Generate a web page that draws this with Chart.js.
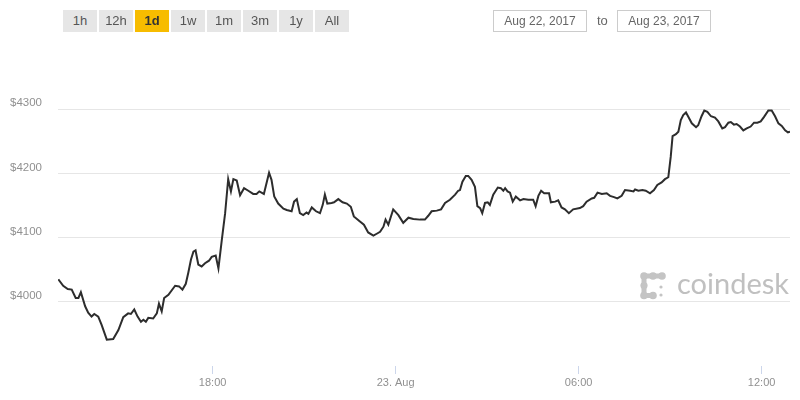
<!DOCTYPE html>
<html>
<head>
<meta charset="utf-8">
<script src="https://cdn.jsdelivr.net/npm/chart.js@4/dist/chart.umd.min.js"></script>
<style>
  html, body { margin: 0; padding: 0; background: #fff; }
  #wrap { position: relative; width: 800px; height: 400px; overflow: hidden; font-family: "Liberation Sans", Arial, sans-serif; }
  #chartBox { position: absolute; left: 0; top: 0; width: 800px; height: 400px; }
  .btn { position: absolute; top: 10px; width: 34px; height: 22px; line-height: 22px; background: #e6e6e6; color: #555; font-size: 13px; text-align: center; }
  .btn.on { background: #f7bc00; color: #333; font-weight: bold; }
  .date { position: absolute; top: 10px; width: 92px; height: 20px; line-height: 20px; border: 1px solid #ccc; color: #666; font-size: 12px; text-align: center; }
  #to { position: absolute; top: 10px; left: 597px; line-height: 22px; color: #666; font-size: 13px; }
  #logo { position: absolute; left: 640px; top: 272px; pointer-events: none; }
  #logoText { position: absolute; left: 677px; top: 268px; font-family: Lato, sans-serif; font-size: 29px; line-height: 29px; color: #c0c0c0; pointer-events: none; }
</style>
</head>
<body>
<div id="wrap">
  <div id="chartBox"><canvas id="priceChart"></canvas></div>
  <div id="buttons"></div>
  <div class="date" style="left:493px">Aug 22, 2017</div>
  <div id="to">to</div>
  <div class="date" style="left:617px">Aug 23, 2017</div>
  <svg id="logo" width="29" height="28" viewBox="0 0 29 28">
    <g fill="#c4c4c4">
      <rect x="4" y="1.5" width="18" height="5" />
      <circle cx="4" cy="4" r="3.8" /><circle cx="13" cy="4" r="3.8" /><circle cx="22" cy="4" r="3.8" />
      <rect x="1.5" y="4" width="5" height="19" />
      <circle cx="4" cy="13.5" r="3.6" />
      <circle cx="4" cy="23.5" r="3.8" /><circle cx="13" cy="23.5" r="3.8" />
      <rect x="4" y="21" width="9" height="5" />
      <circle cx="21" cy="15" r="1.6" /><circle cx="21" cy="23" r="1.6" />
    </g>
  </svg>
  <div id="logoText">coindesk</div>
</div>
<script>
// range buttons above the chart
const rangeButtons = ['1h', '12h', '1d', '1w', '1m', '3m', '1y', 'All'];
const activeRange = '1d';

// time in hours counted from 22 Aug 2017 00:00, price in USD
const times = [
  12.94, 13.10, 13.25, 13.38, 13.51, 13.60, 13.68, 13.82, 13.92, 14.03,
  14.12, 14.25, 14.36, 14.53, 14.74, 14.91, 15.07, 15.23, 15.32, 15.43,
  15.54, 15.65, 15.73, 15.81, 15.89, 16.05, 16.17, 16.24, 16.33, 16.41,
  16.55, 16.77, 16.90, 17.01, 17.12, 17.20, 17.29, 17.37, 17.44, 17.53,
  17.64, 17.75, 17.88, 17.97, 18.10, 18.19, 18.30, 18.41, 18.51, 18.60,
  18.68, 18.79, 18.90, 19.03, 19.17, 19.33, 19.44, 19.53, 19.68, 19.85,
  19.93, 20.02, 20.15, 20.32, 20.43, 20.59, 20.67, 20.76, 20.86, 20.97,
  21.08, 21.14, 21.25, 21.39, 21.52, 21.61, 21.68, 21.76, 21.90, 21.98,
  22.12, 22.26, 22.40, 22.53, 22.63, 22.83, 22.96, 23.10, 23.27, 23.38,
  23.49, 23.60, 23.67, 23.76, 23.92, 24.09, 24.25, 24.42, 24.58, 24.80,
  24.96, 25.07, 25.18, 25.35, 25.49, 25.62, 25.78, 25.95, 26.05, 26.11,
  26.19, 26.30, 26.38, 26.49, 26.60, 26.68, 26.77, 26.84, 26.93, 27.02,
  27.09, 27.20, 27.35, 27.45, 27.53, 27.59, 27.67, 27.75, 27.84, 27.94,
  28.08, 28.19, 28.35, 28.51, 28.59, 28.68, 28.77, 28.87, 29.03, 29.09,
  29.23, 29.33, 29.44, 29.55, 29.68, 29.82, 30.04, 30.15, 30.26, 30.43,
  30.51, 30.62, 30.76, 30.92, 31.03, 31.16, 31.27, 31.41, 31.52, 31.69,
  31.80, 31.85, 31.96, 32.09, 32.20, 32.34, 32.47, 32.58, 32.72, 32.83,
  32.94, 33.02, 33.08, 33.19, 33.27, 33.35, 33.43, 33.52, 33.60, 33.71,
  33.85, 33.92, 34.03, 34.12, 34.22, 34.34, 34.47, 34.58, 34.71, 34.80,
  34.91, 34.99, 35.09, 35.18, 35.29, 35.40, 35.51, 35.64, 35.75, 35.86,
  35.97, 36.08, 36.22, 36.33, 36.44, 36.55, 36.66, 36.77, 36.86, 36.93
];
const prices = [
  4035, 4025, 4020, 4019, 4006, 4006, 4015, 3993, 3983, 3977,
  3981, 3977, 3964, 3941, 3942, 3956, 3976, 3982, 3981, 3988,
  3977, 3969, 3972, 3969, 3975, 3974, 3982, 3997, 3985, 4006,
  4011, 4025, 4024, 4019, 4028, 4045, 4066, 4078, 4080, 4058,
  4055, 4060, 4064, 4070, 4072, 4052, 4096, 4138, 4191, 4172,
  4191, 4189, 4166, 4177, 4173, 4168, 4168, 4172, 4168, 4201,
  4190, 4164, 4153, 4145, 4143, 4141, 4156, 4160, 4138, 4135,
  4139, 4137, 4147, 4141, 4138, 4151, 4167, 4153, 4154, 4155,
  4160, 4155, 4153, 4148, 4133, 4125, 4120, 4108, 4103, 4106,
  4109, 4117, 4128, 4120, 4144, 4135, 4123, 4131, 4129, 4128,
  4128, 4134, 4141, 4142, 4144, 4154, 4159, 4167, 4173, 4174,
  4187, 4196, 4196, 4190, 4179, 4149, 4146, 4138, 4154, 4155,
  4151, 4167, 4178, 4177, 4173, 4177, 4172, 4170, 4156, 4164,
  4158, 4160, 4159, 4159, 4149, 4165, 4173, 4169, 4169, 4155,
  4156, 4158, 4147, 4144, 4138, 4144, 4146, 4149, 4156, 4161,
  4162, 4170, 4168, 4169, 4165, 4163, 4161, 4165, 4174, 4173,
  4172, 4175, 4173, 4174, 4173, 4169, 4174, 4182, 4186, 4191,
  4194, 4226, 4258, 4261, 4265, 4283, 4291, 4295, 4288, 4278,
  4272, 4275, 4289, 4298, 4296, 4289, 4287, 4281, 4270, 4272,
  4279, 4280, 4276, 4277, 4273, 4267, 4270, 4273, 4279, 4279,
  4281, 4288, 4298, 4298, 4289, 4278, 4274, 4267, 4264, 4265
];

// axis ticks
const xTickValues = [18, 24, 30, 36];
const xTickLabels = ['18:00', '23. Aug', '06:00', '12:00'];
const yTickValues = [4000, 4100, 4200, 4300];

// buttons
const btnBox = document.getElementById('buttons');
rangeButtons.forEach((name, i) => {
  const b = document.createElement('div');
  b.className = 'btn' + (name === activeRange ? ' on' : '');
  b.style.left = (63 + i * 36) + 'px';
  b.textContent = name;
  btnBox.appendChild(b);
});

const points = times.map((t, i) => ({ x: t, y: prices[i] }));

new Chart(document.getElementById('priceChart'), {
  type: 'line',
  data: {
    datasets: [{
      data: points,
      borderColor: '#2d2d2d',
      borderWidth: 2,
      pointRadius: 0,
      tension: 0,
      fill: false
    }]
  },
  options: {
    responsive: true,
    maintainAspectRatio: false,
    animation: false,
    layout: { padding: { top: 45, right: 10, left: 0, bottom: 0 } },
    plugins: { legend: { display: false }, tooltip: { enabled: false } },
    scales: {
      x: {
        type: 'linear',
        min: 12.93,
        max: 36.93,
        afterFit: s => { s.height = 34; },
        afterBuildTicks: s => { s.ticks = xTickValues.map(v => ({ value: v })); },
        border: { display: false },
        grid: { drawOnChartArea: false, drawTicks: true, tickLength: 8, tickColor: '#ccd6eb', lineWidth: 1 },
        ticks: {
          autoSkip: false,
          maxRotation: 0,
          padding: 2,
          color: '#909090',
          font: { family: 'Liberation Sans, Arial, sans-serif', size: 11 },
          callback: v => xTickLabels[xTickValues.indexOf(v)]
        }
      },
      y: {
        min: 3900,
        max: 4400,
        afterFit: s => { s.width = 58; },
        afterBuildTicks: s => { s.ticks = yTickValues.map(v => ({ value: v })); },
        border: { display: false },
        grid: { color: '#e6e6e6', lineWidth: 1, drawTicks: false },
        ticks: {
          padding: 16,
          color: '#909090',
          font: { family: 'Liberation Sans, Arial, sans-serif', size: 11.5, lineHeight: 1.05 },
          // second empty line lifts the label above its grid line
          callback: v => ['$' + v, '']
        }
      }
    }
  }
});
</script>
</body>
</html>
